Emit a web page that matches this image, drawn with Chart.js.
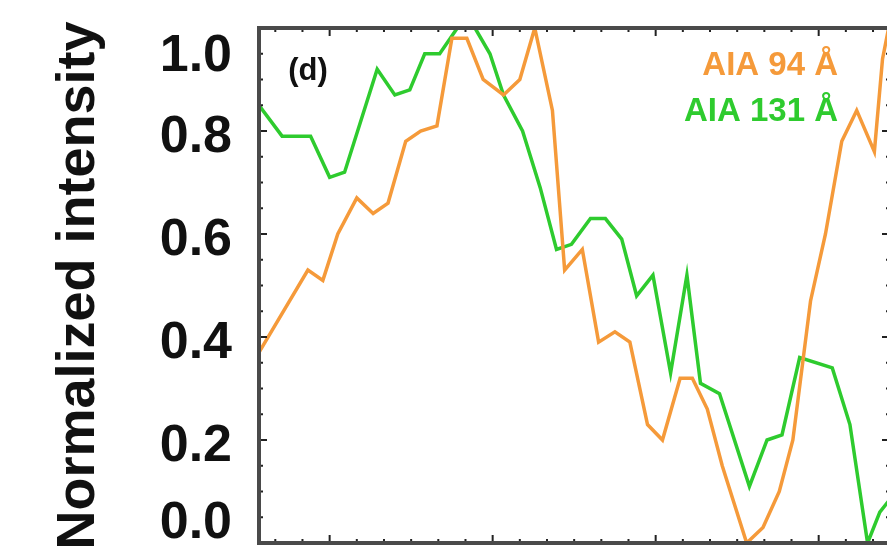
<!DOCTYPE html>
<html>
<head>
<meta charset="utf-8">
<title>Normalized intensity</title>
<script src="https://cdn.jsdelivr.net/npm/chart.js@4.4.1/dist/chart.umd.min.js"></script>
<style>
  html, body { margin: 0; padding: 0; background: #fff; overflow: hidden; }
  #wrap { width: 892px; height: 556px; }
</style>
</head>
<body>
<div id="wrap"><canvas id="lc" width="892" height="556"></canvas></div>
<script>
// ---- light curves, time in s past the minute mark (12 s cadence) ----

const t94 = [68, 104, 115, 126, 140, 152, 163, 176, 187, 199, 210, 221, 233, 248, 260, 271,
             284, 293, 306, 318, 330, 341, 354, 365, 378, 387, 398, 409, 427, 439, 451, 461,
             474, 485, 497, 508, 521, 527, 539];
const i94 = [0.37, 0.53, 0.51, 0.60, 0.67, 0.64, 0.66, 0.78, 0.80, 0.81, 0.98, 0.98, 0.90, 0.87, 0.90, 1.00,
             0.84, 0.53, 0.57, 0.39, 0.41, 0.39, 0.23, 0.20, 0.32, 0.32, 0.26, 0.15, 0.00, 0.03, 0.10, 0.20,
             0.47, 0.60, 0.78, 0.84, 0.76, 0.94, 1.10];

const t131 = [68, 85, 106, 120, 131, 155, 168, 179, 190, 201, 214, 227, 238, 248, 262, 275,
              287, 298, 312, 323, 335, 346, 358, 371, 383, 393, 407, 429, 442, 453, 466, 490,
              503, 516, 525, 534];
const i131 = [0.85, 0.79, 0.79, 0.71, 0.72, 0.92, 0.87, 0.88, 0.95, 0.95, 1.00, 1.00, 0.95, 0.87, 0.80, 0.69,
              0.57, 0.58, 0.63, 0.63, 0.59, 0.48, 0.52, 0.33, 0.52, 0.31, 0.29, 0.11, 0.20, 0.21, 0.36, 0.34,
              0.23, 0.00, 0.06, 0.09];

const seriesNames = ['AIA 94 Å', 'AIA 131 Å'];
const yMajor      = [0, 0.2, 0.4, 0.6, 0.8, 1.0];

const ORANGE = '#F59A3A';
const GREEN  = '#2ECB2E';
const FONT   = "'Liberation Sans', Arial, Helvetica, sans-serif";

const X_MIN = 68, X_MAX = 532.5;
const X_MINOR = 20, X_MAJOR = 120;

const pts = (ts, vs) => ts.map((t, i) => ({ x: t, y: vs[i] }));

const isMajorY = v => yMajor.some(m => Math.abs(m - v) < 1e-6);

//  FRAME, INWARD TICKS, LABELS

const framePlugin = {
  id: 'frame',
  afterDatasetsDraw(chart) {
    const { ctx, chartArea: a, scales: { x, y } } = chart;
    ctx.save();

    // tick marks point into the box on all four sides
    ctx.strokeStyle = '#222';
    ctx.lineWidth = 2;
    ctx.beginPath();
    x.ticks.forEach(t => {
      const px  = x.getPixelForValue(t.value);
      const len = t.value % X_MAJOR === 0 ? 8 : 4;
      ctx.moveTo(px, a.bottom); ctx.lineTo(px, a.bottom - len);
      ctx.moveTo(px, a.top);    ctx.lineTo(px, a.top + len);
    });
    y.ticks.forEach(t => {
      const py  = y.getPixelForValue(t.value);
      const len = isMajorY(t.value) ? 8 : 4;
      ctx.moveTo(a.left, py);  ctx.lineTo(a.left + len, py);
      ctx.moveTo(a.right, py); ctx.lineTo(a.right - len, py);
    });
    ctx.stroke();

    ctx.strokeStyle = '#4a4a4a';
    ctx.lineWidth = 4;
    ctx.strokeRect(a.left, a.top, a.right - a.left, a.bottom - a.top);

    // y tick labels, the end ones kept inside the box height
    ctx.fillStyle = '#111';
    ctx.font = `bold 52px ${FONT}`;
    ctx.textAlign = 'right';
    ctx.textBaseline = 'middle';
    yMajor.forEach(v => {
      let py = y.getPixelForValue(v) + 7;
      py = Math.min(Math.max(py, a.top + 29), a.bottom - 19);
      ctx.fillText(v.toFixed(1), a.left - 27, py);
    });

    // panel tag
    ctx.font = `bold 31px ${FONT}`;
    ctx.textAlign = 'center';
    ctx.fillText('(d)', a.left + 49, a.top + 43);

    // channel names, right aligned, in the line colours
    ctx.font = `bold 33px ${FONT}`;
    ctx.textAlign = 'right';
    chart.data.datasets.forEach((ds, i) => {
      ctx.fillStyle = ds.borderColor;
      ctx.fillText(ds.label, 838, 66 + i * 46);
    });

    ctx.restore();
  }
};

new Chart(document.getElementById('lc'), {
  type: 'line',
  data: {
    datasets: [
      {
        label:       seriesNames[0],
        data:        pts(t94, i94),
        borderColor: ORANGE,
        borderWidth: 3.5,
        pointRadius: 0,
        tension:     0,
      },
      {
        label:       seriesNames[1],
        data:        pts(t131, i131),
        borderColor: GREEN,
        borderWidth: 3.5,
        pointRadius: 0,
        tension:     0,
      },
    ],
  },
  options: {
    responsive: false,
    animation:  false,
    devicePixelRatio: 1,
    layout: { padding: { left: 0, top: 28, right: 2, bottom: 13 } },
    plugins: {
      legend:  { display: false },
      tooltip: { enabled: false },
    },
    scales: {
      x: {
        type: 'linear',
        min:  X_MIN,
        max:  X_MAX,
        grid:   { display: false },
        border: { display: false },
        ticks:  { display: false },
        afterBuildTicks(scale) {
          const ticks = [];
          for (let v = Math.ceil(X_MIN / X_MINOR) * X_MINOR; v <= X_MAX; v += X_MINOR) {
            ticks.push({ value: v });
          }
          scale.ticks = ticks;
        },
        afterFit(scale) { scale.height = 0; },
      },
      y: {
        min: 0,
        max: 1,
        grid:   { display: false },
        border: { display: false },
        ticks:  { display: false, stepSize: 0.05 },
        title: {
          display: true,
          text:    'Normalized intensity',
          color:   '#111',
          font:    { family: FONT, size: 54, weight: 'bold', lineHeight: 1.2 },
          padding: { top: 47, bottom: 0 },
        },
        afterFit(scale) { scale.width = 259; },
      },
    },
  },
  plugins: [framePlugin],
});
</script>
</body>
</html>
